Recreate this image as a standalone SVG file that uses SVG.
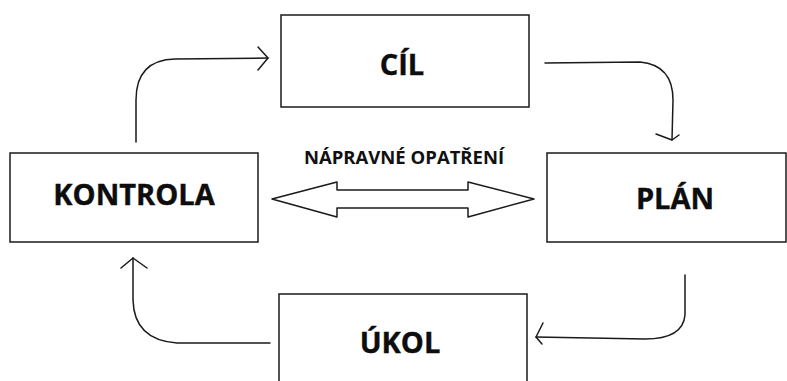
<svg xmlns="http://www.w3.org/2000/svg" width="787" height="381" viewBox="0 0 787 381">
  <style>
    .box { fill: #fff; stroke: #1a1a1a; stroke-width: 1.5; }
    .lbl { font-family: "Open Sans", "Liberation Sans", sans-serif; font-weight: bold; font-size: 29px; fill: #0d0d0d; text-anchor: middle; stroke: #0d0d0d; stroke-width: 0.4; }
    .small { font-family: "Open Sans", "Liberation Sans", sans-serif; font-weight: bold; font-size: 18.5px; fill: #111; text-anchor: middle; }
    .conn { fill: none; stroke: #1a1a1a; stroke-width: 1.5; stroke-linecap: round; stroke-linejoin: round; }
  </style>
  <rect width="787" height="381" fill="#fff"/>

  <g id="cil">
    <rect class="box" x="281" y="15" width="248" height="92"/>
    <text class="lbl" x="402" y="75">CÍL</text>
  </g>
  <g id="kontrola">
    <rect class="box" x="10" y="153" width="248" height="89"/>
    <text class="lbl" x="134" y="205">KONTROLA</text>
  </g>
  <g id="plan">
    <rect class="box" x="547" y="153" width="239" height="89"/>
    <text class="lbl" x="675" y="209">PLÁN</text>
  </g>
  <g id="ukol">
    <rect class="box" x="279" y="294" width="248" height="100"/>
    <text class="lbl" x="400" y="353">ÚKOL</text>
  </g>

  <g id="napravne">
    <text class="small" x="404" y="164">NÁPRAVNÉ OPATŘENÍ</text>
    <path class="conn" d="M272,199 L337,182 L337,190 L468,190 L468,182 L534,199 L468,217 L468,208 L337,208 L337,217 Z"/>
  </g>

  <g id="connectors">
    <!-- KONTROLA -> CÍL -->
    <path class="conn" d="M136,142 L136,100 Q136,60 175,59 L268,58"/>
    <path class="conn" d="M258,47 L268,58 L258,70"/>
    <!-- CÍL -> PLÁN -->
    <path class="conn" d="M545,63 L640,62 Q673,65 673,100 L672,140"/>
    <path class="conn" d="M656,134 L672,140 L679,135"/>
    <!-- PLÁN -> ÚKOL -->
    <path class="conn" d="M685,275 L685,315 Q683,339 645,339 L536,337"/>
    <path class="conn" d="M543,323 L536,337 L542,344"/>
    <!-- ÚKOL -> KONTROLA -->
    <path class="conn" d="M270,343 L177,343 Q134,340 133,300 L133,258"/>
    <path class="conn" d="M121,268 L133,258 L147,268"/>
  </g>
</svg>
